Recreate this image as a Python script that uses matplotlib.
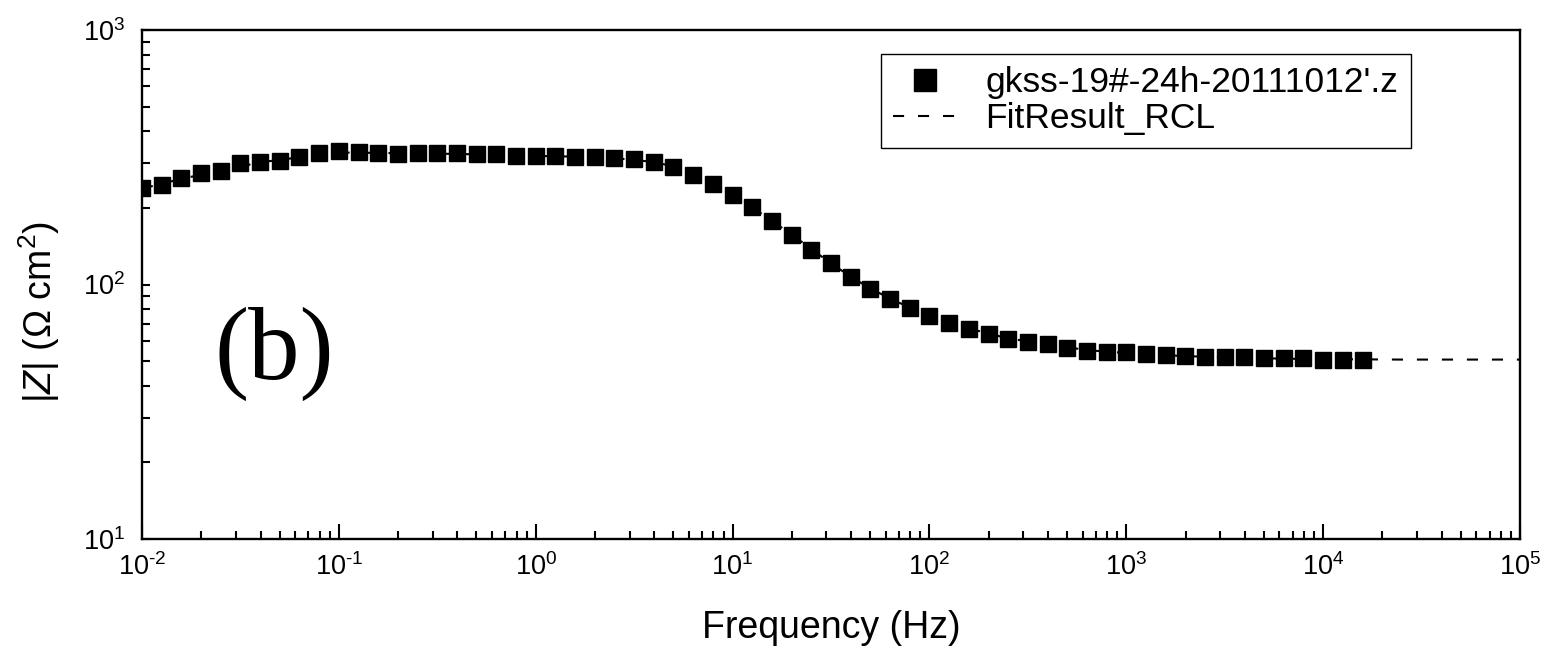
import math
import matplotlib
matplotlib.use("Agg")
import matplotlib.pyplot as plt
from matplotlib.ticker import LogLocator, FixedLocator, NullFormatter, FuncFormatter

plt.rcParams['font.family'] = ['Liberation Sans', 'DejaVu Sans']
plt.rcParams['mathtext.fontset'] = 'custom'
plt.rcParams['mathtext.rm'] = 'Liberation Sans'
plt.rcParams['mathtext.it'] = 'Liberation Sans:italic'
plt.rcParams['mathtext.bf'] = 'Liberation Sans:bold'
plt.rcParams['lines.scale_dashes'] = False

# ---- data ----
freq_hz = [
    0.01, 0.0126, 0.0158, 0.02, 0.0251, 0.0316, 0.0398, 0.0501, 0.0631, 0.0794,
    0.1, 0.126, 0.158, 0.2, 0.251, 0.316, 0.398, 0.501, 0.631, 0.794,
    1.0, 1.26, 1.58, 2.0, 2.51, 3.16, 3.98, 5.01, 6.31, 7.94,
    10.0, 12.6, 15.8, 20.0, 25.1, 31.6, 39.8, 50.1, 63.1, 79.4,
    100.0, 126.0, 158.0, 200.0, 251.0, 316.0, 398.0, 501.0, 631.0, 794.0,
    1000.0, 1259.0, 1585.0, 1995.0, 2512.0, 3162.0, 3981.0, 5012.0, 6310.0, 7943.0,
    10000.0, 12589.0, 15849.0,
]
z_measured = [
    239, 245, 261, 274, 279, 299, 302, 307, 316, 328,
    334, 331, 328, 325, 328, 328, 328, 325, 325, 319,
    319, 319, 316, 316, 315, 310, 302, 289, 269, 248,
    224, 201, 177, 156, 137, 121, 107.5, 96.4, 88.1, 81.2,
    75.5, 70.9, 67.1, 64.1, 61.3, 59.7, 58.6, 56.5, 55.0, 54.5,
    54.5, 53.5, 53.0, 52.5, 52.1, 52.1, 52.1, 51.6, 51.6, 51.2,
    50.7, 50.7, 50.7,
]
fit_freq_hz = [
    0.01, 0.0158, 0.0251, 0.0398, 0.0631, 0.1, 0.158, 0.251, 0.398, 0.631,
    1.0, 1.58, 2.51, 3.98, 5.01, 6.31, 7.94, 10.0, 12.6, 15.8,
    20.0, 25.1, 31.6, 39.8, 50.1, 63.1, 79.4, 100.0, 158.0, 251.0,
    398.0, 631.0, 1000.0, 1585.0, 2512.0, 3981.0, 6310.0, 10000.0, 15849.0, 25119.0,
    39811.0, 63096.0, 100000.0,
]
fit_z = [
    238, 260, 280, 302, 316, 330, 329, 327, 326, 323,
    320, 318, 314, 303, 291, 271, 249, 225, 201, 178,
    157, 138, 121, 107.5, 96.4, 88.1, 81.2, 75.5, 67.2, 61.4,
    58.3, 55.2, 53.8, 52.7, 52.0, 51.5, 51.1, 50.9, 50.8, 50.7,
    50.7, 50.7, 50.7,
]
series_labels = ["gkss-19#-24h-20111012'.z", "FitResult_RCL"]
x_tick_exponents = [-2, -1, 0, 1, 2, 3, 4, 5]
y_tick_exponents = [1, 2, 3]

# ---- figure ----
W, H = 1547, 652
fig = plt.figure(figsize=(W / 100, H / 100), dpi=100)
L, R, T, B = 142, 1520, 30, 539
ax = fig.add_axes([L / W, 1 - B / H, (R - L) / W, (B - T) / H])

ax.set_xscale('log')
ax.set_yscale('log')
ax.set_xlim(1e-2, 1e5)
ax.set_ylim(1e1, 1e3)

ax.plot(fit_freq_hz, fit_z, color='black', lw=1.5, dashes=(8, 10),
        label=series_labels[1], zorder=2)
ax.plot(freq_hz, z_measured, ls='none', marker='s', ms=11.5, color='black',
        mec='black', label=series_labels[0], zorder=3)

for s in ax.spines.values():
    s.set_linewidth(1.7)


def pow10_label(v, pos):
    e = int(round(math.log10(v)))
    s = str(e).replace('-', '\u2010')
    return r'$\mathregular{10^{%s}}$' % s


ax.xaxis.set_major_locator(FixedLocator([10.0 ** e for e in x_tick_exponents]))
ax.yaxis.set_major_locator(FixedLocator([10.0 ** e for e in y_tick_exponents]))
ax.xaxis.set_minor_locator(LogLocator(base=10, subs=range(2, 10), numticks=20))
ax.yaxis.set_minor_locator(LogLocator(base=10, subs=range(2, 10), numticks=20))
ax.xaxis.set_minor_formatter(NullFormatter())
ax.yaxis.set_minor_formatter(NullFormatter())
ax.xaxis.set_major_formatter(FuncFormatter(pow10_label))
ax.yaxis.set_major_formatter(FuncFormatter(pow10_label))

ax.tick_params(axis='both', which='both', direction='in', top=False, right=False,
               width=1.5, labelsize=19.5)
ax.tick_params(axis='x', which='major', length=11, pad=10)
ax.tick_params(axis='x', which='minor', length=5.5)
ax.tick_params(axis='y', which='major', length=5.5, pad=12)
ax.tick_params(axis='y', which='minor', length=5.5)

ax.set_xlabel('Frequency (Hz)', fontsize=27)
ax.xaxis.set_label_coords(0.5, -0.14)
ax.set_ylabel(r'$|Z|$ ($\Omega$ cm$^{2}$)', fontsize=27)
ax.yaxis.set_label_coords(-0.058, 0.445)

handles, labels = ax.get_legend_handles_labels()
leg = ax.legend(handles[::-1], labels[::-1], loc='upper left',
                bbox_to_anchor=(881 / W, 1 - 54 / H), bbox_transform=fig.transFigure,
                fontsize=25.5, frameon=True, fancybox=False, framealpha=1,
                edgecolor='black', borderpad=0.35, handlelength=1.8,
                handletextpad=0.8, labelspacing=0.08, markerscale=1.35,
                borderaxespad=0)
leg.get_frame().set_linewidth(1.0)

fig.text(274 / W, 1 - 379 / H, '(b)', fontsize=74, family='Liberation Serif',
         ha='center', va='baseline')

fig.savefig('out.png', dpi=100, facecolor='white')
